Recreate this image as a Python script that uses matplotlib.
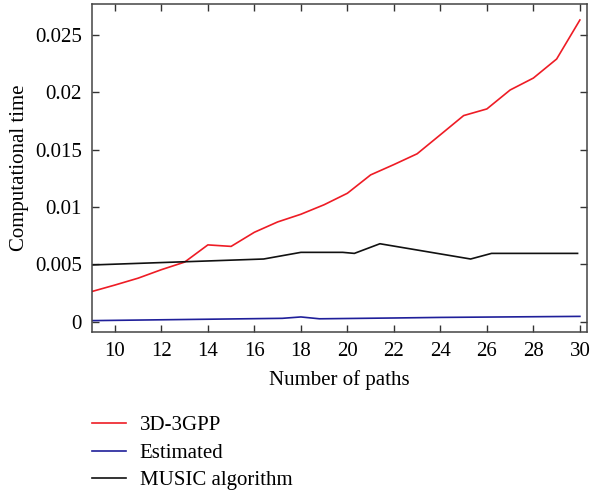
import numpy as np
import matplotlib.pyplot as plt
from matplotlib.ticker import FixedLocator

plt.rcParams['font.family'] = ['Liberation Serif', 'DejaVu Serif']

# 3D-3GPP curve
gpp_x = [9, 10, 11, 12, 13, 14, 15, 16, 17, 18, 19, 20, 21, 22, 23, 24, 25, 26, 27, 28, 29, 30]
gpp_y = [0.00263, 0.0032, 0.0038, 0.00454, 0.0052, 0.0067, 0.00657, 0.0078, 0.0087, 0.00937,
         0.0102, 0.0112, 0.0128, 0.0137, 0.01464, 0.0163, 0.01797, 0.01855, 0.0202, 0.02124,
         0.0229, 0.0263]

# estimated
est_x = [9, 17.2, 18, 18.8, 22, 24, 30]
est_y = [0.0001, 0.0003, 0.00042, 0.00026, 0.00033, 0.00038, 0.00047]

# MUSIC algorithm
music_x = [9, 14, 16.4, 18, 19.8, 20.3, 21.4, 25.3, 26.2, 29.9]
music_y = [0.00495, 0.0053, 0.00547, 0.00605, 0.00605, 0.00596, 0.0068, 0.00547, 0.00596, 0.00596]

x_ticks = [10, 12, 14, 16, 18, 20, 22, 24, 26, 28, 30]
y_ticks = [0, 0.005, 0.01, 0.015, 0.02, 0.025]
y_labels = ['0', '0.005', '0.01', '0.015', '0.02', '0.025']

fig = plt.figure(figsize=(5.91, 4.92), dpi=100)
ax = fig.add_axes([0.155, 0.325, 0.838, 0.667])

ax.plot(gpp_x, gpp_y, color='#ee1c25', lw=1.2, label='3D-3GPP')
ax.plot(est_x, est_y, color='#1f1f9a', lw=1.2, label='Estimated')
ax.plot(music_x, music_y, color='#111111', lw=1.2, label='MUSIC algorithm')

ax.set_xlim(9, 30.3)
ax.set_ylim(-0.0009, 0.0277)
ax.xaxis.set_major_locator(FixedLocator(x_ticks))
ax.set_yticks(y_ticks)
ax.set_yticklabels(y_labels)
ax.tick_params(direction='in', top=True, right=True, length=5, width=1,
               labelsize=15, color='#333333', pad=7)
for s in ax.spines.values():
    s.set_color('#444444')
    s.set_linewidth(1.1)

ax.set_xlabel('Number of paths', fontsize=15, labelpad=7)
ax.set_ylabel('Computational time', fontsize=15, labelpad=4)

ax.legend(loc='upper left', bbox_to_anchor=(0.0, -0.255), frameon=False, fontsize=15,
          handlelength=1.65, handletextpad=0.65, labelspacing=0.38, borderaxespad=0,
          borderpad=0)

fig.savefig('out.png', dpi=100)
